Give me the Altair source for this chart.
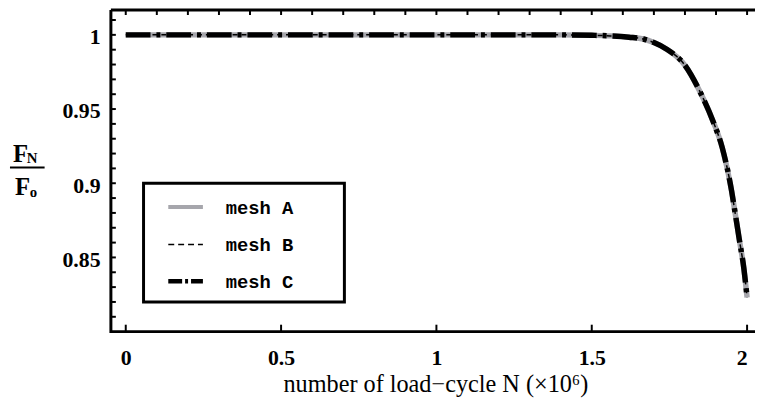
import altair as alt
import pandas as pd

# ---- data ----
N_VALUES = [0.0, 0.2, 0.4, 0.6, 0.8, 1.0, 1.2, 1.4, 1.5, 1.56, 1.62, 1.666, 1.7,
            1.74, 1.8, 1.85, 1.89, 1.92, 1.95, 1.96, 1.975, 1.99, 2.0]
MESH_A = [1.0, 1.0, 1.0, 1.0, 1.0, 1.0, 1.0, 1.0, 0.9997, 0.9993, 0.9984, 0.9972, 0.9948,
          0.9905, 0.9795, 0.961, 0.942, 0.924, 0.895, 0.882, 0.862, 0.842, 0.823]
MESH_B = [1.0, 1.0, 1.0, 1.0, 1.0, 1.0, 1.0, 1.0, 0.9997, 0.9993, 0.9984, 0.9972, 0.9948,
          0.9905, 0.9795, 0.961, 0.942, 0.924, 0.895, 0.882, 0.862, 0.842, 0.823]
MESH_C = [1.0, 1.0, 1.0, 1.0, 1.0, 1.0, 1.0, 1.0, 0.9997, 0.9993, 0.9984, 0.9972, 0.9948,
          0.9905, 0.9795, 0.961, 0.942, 0.924, 0.895, 0.882, 0.862, 0.842, 0.823]
SERIES = ["mesh A", "mesh B", "mesh C"]

X_LABELS = [0, 0.5, 1, 1.5, 2]
X_MINOR = [0.0, 0.1, 0.2, 0.3, 0.4, 0.5, 0.6, 0.7, 0.8, 0.9, 1.0, 1.1, 1.2, 1.3, 1.4,
           1.5, 1.6, 1.7, 1.8, 1.9, 2.0]
Y_LABELS = [0.85, 0.9, 0.95, 1.0]
Y_MINOR = [0.81, 0.82, 0.83, 0.84, 0.85, 0.86, 0.87, 0.88, 0.89, 0.9, 0.91, 0.92, 0.93,
           0.94, 0.95, 0.96, 0.97, 0.98, 0.99, 1.0, 1.01]

X_TITLE = "number of load\u2212cycle N (\u00d710\u2076)"

W, H = 643, 325
SERIF = "Liberation Serif"
MONO = "Liberation Mono"
GREY = "#a6a6ac"

rows = []
for name, vals in zip(SERIES, [MESH_A, MESH_B, MESH_C]):
    for n, v in zip(N_VALUES, vals):
        rows.append({"N": n, "F": v, "mesh": name})
df = pd.DataFrame(rows)

xscale = alt.Scale(domain=[-0.0478, 2.0], nice=False, zero=False)
yscale = alt.Scale(domain=[0.80, 1.0167], nice=False, zero=False)

x_axis = alt.Axis(values=X_LABELS, format="~g", domain=False, ticks=False, grid=False,
                  labelFont=SERIF, labelFontWeight="bold", labelFontSize=22,
                  labelColor="black", labelPadding=16,
                  title=X_TITLE, titleFont=SERIF, titleFontWeight="normal",
                  titleFontSize=24.5, titleColor="black", titleBaseline="alphabetic",
                  titleY=61, titleX=328, titleAlign="center")
y_axis = alt.Axis(values=Y_LABELS, format=".2~f", domain=False, ticks=False, grid=False,
                  labelFont=SERIF, labelFontWeight="bold", labelFontSize=22,
                  labelColor="black", labelPadding=11, labelOffset=2, title="")

base = alt.Chart(df)


def series_line(name, color, width, dash=None):
    kw = dict(color=color, strokeWidth=width, interpolate="monotone", clip=False)
    if dash is not None:
        kw["strokeDash"] = dash
    return base.transform_filter(alt.datum.mesh == name).mark_line(**kw).encode(
        x=alt.X("N:Q", scale=xscale, axis=x_axis),
        y=alt.Y("F:Q", scale=yscale, axis=y_axis),
    )


line_a = series_line("mesh A", GREY, 5.5)
line_c = series_line("mesh C", "black", 5.5, [25, 6, 4, 6])
line_b = series_line("mesh B", "black", 1.5, [5, 4])

one = alt.Data(values=[{}])

# frame lines
frame = [
    alt.Chart(one).mark_rule(color="black", strokeWidth=3).encode(
        x=alt.value(0), x2=alt.value(651), y=alt.value(0)),
    alt.Chart(one).mark_rule(color="black", strokeWidth=3).encode(
        x=alt.value(0), x2=alt.value(651), y=alt.value(H)),
    alt.Chart(one).mark_rule(color="black", strokeWidth=3).encode(
        x=alt.value(0), y=alt.value(0), y2=alt.value(H + 1.5)),
]

# inward ticks (same scales and axes as the lines, so the axes merge)
tick_bottom = alt.Chart(pd.DataFrame({"N": X_LABELS})).mark_rule(
    color="black", strokeWidth=2).encode(
    x=alt.X("N:Q", scale=xscale, axis=x_axis), y=alt.value(H), y2=alt.value(H - 7))
tick_top = alt.Chart(pd.DataFrame({"N": X_MINOR})).mark_rule(
    color="black", strokeWidth=2).encode(
    x=alt.X("N:Q", scale=xscale, axis=x_axis), y=alt.value(0), y2=alt.value(5))
tick_left = alt.Chart(pd.DataFrame({"F": Y_MINOR})).mark_rule(
    color="black", strokeWidth=2).encode(
    y=alt.Y("F:Q", scale=yscale, axis=y_axis), x=alt.value(0), x2=alt.value(5))


def txt(s, x, y, size, font=SERIF, weight="bold", align="left", baseline="alphabetic"):
    return alt.Chart(one).mark_text(text=s, font=font, fontWeight=weight, fontSize=size,
                                    align=align, baseline=baseline, color="black").encode(
        x=alt.value(x), y=alt.value(y))


# y title as a fraction F_N / F_o
ytitle = [
    txt("F", -99, 154, 25),
    txt("N", -85, 155, 15),
    alt.Chart(one).mark_rule(color="black", strokeWidth=2).encode(
        x=alt.value(-102), x2=alt.value(-67), y=alt.value(159)),
    txt("F", -97, 187, 25),
    txt("o", -82, 189, 15),
]

# legend box
LX0, LX1, LY0, LY1 = 33, 236, 175, 295
ROWS = [199, 237, 274]
legend = [
    alt.Chart(one).mark_rect(fill="white", stroke="black", strokeWidth=3).encode(
        x=alt.value(LX0), x2=alt.value(LX1), y=alt.value(LY0), y2=alt.value(LY1)),
    alt.Chart(one).mark_rule(color=GREY, strokeWidth=4).encode(
        x=alt.value(58), x2=alt.value(93), y=alt.value(ROWS[0])),
    alt.Chart(one).mark_rule(color="black", strokeWidth=1.5, strokeDash=[6, 4]).encode(
        x=alt.value(58), x2=alt.value(93), y=alt.value(ROWS[1])),
    alt.Chart(one).mark_rule(color="black", strokeWidth=4.5, strokeDash=[14, 3, 3, 3]).encode(
        x=alt.value(58), x2=alt.value(93), y=alt.value(ROWS[2])),
]
for name, ry in zip(SERIES, ROWS):
    legend.append(txt(name, 116, ry + 1, 19, font=MONO, baseline="middle"))

chart = alt.layer(
    line_a, line_c, line_b, *frame, tick_bottom, tick_top, tick_left, *ytitle, *legend
).properties(
    width=W, height=H,
    background="white",
    autosize=alt.AutoSizeParams(type="none"),
    padding={"left": 104, "top": 0, "right": 8, "bottom": 66},
).configure_view(stroke=None)

chart.save("out.html", embed_options={"renderer": "svg", "actions": False})
